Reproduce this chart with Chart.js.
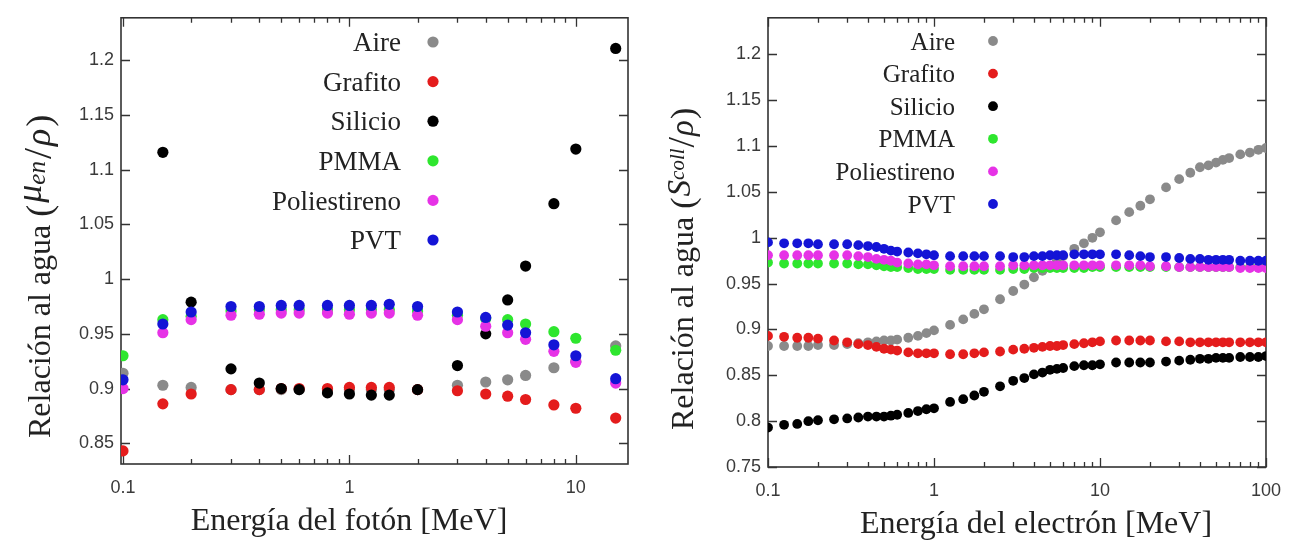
<!DOCTYPE html>
<html>
<head>
<meta charset="utf-8">
<script src="https://cdn.jsdelivr.net/npm/chart.js@4"></script>
<style>
  body { margin: 0; background: #fff; }
  .panel { position: absolute; top: 0; width: 647px; height: 540px; }
</style>
</head>
<body>
<div class="panel" style="left:0"><canvas id="photon" width="647" height="540"></canvas></div>
<div class="panel" style="left:647px"><canvas id="electron" width="647" height="540"></canvas></div>
<script>
// --- DATA ---
const materials = ['Aire', 'Grafito', 'Silicio', 'PMMA', 'Poliestireno', 'PVT'];

// photon energies [MeV] and ratio (mu_en/rho) material / water
const photonE   = [0.1, 0.15, 0.2, 0.3, 0.4, 0.5, 0.6, 0.8, 1, 1.25, 1.5, 2, 3, 4, 5, 6, 8, 10, 15];
const airePh     = [0.914, 0.903, 0.901, 0.899, 0.899, 0.899, 0.899, 0.899, 0.899, 0.899, 0.899, 0.899, 0.903, 0.906, 0.908, 0.912, 0.919, 0.925, 0.939];
const grafitoPh  = [0.843, 0.886, 0.895, 0.899, 0.899, 0.900, 0.900, 0.900, 0.901, 0.901, 0.901, 0.899, 0.898, 0.895, 0.893, 0.890, 0.885, 0.882, 0.873];
const silicioPh  = [null, 1.116, 0.979, 0.918, 0.905, 0.900, 0.899, 0.896, 0.895, 0.894, 0.894, 0.899, 0.921, 0.950, 0.981, 1.012, 1.069, 1.119, 1.211];
const pmmaPh     = [0.930, 0.963, 0.966, 0.971, 0.972, 0.972, 0.972, 0.972, 0.972, 0.972, 0.972, 0.971, 0.967, 0.964, 0.963, 0.959, 0.952, 0.946, 0.935];
const poliPh     = [0.900, 0.951, 0.963, 0.967, 0.968, 0.969, 0.969, 0.969, 0.968, 0.969, 0.969, 0.967, 0.963, 0.957, 0.951, 0.945, 0.934, 0.924, 0.905];
const pvtPh      = [0.908, 0.959, 0.970, 0.975, 0.975, 0.976, 0.976, 0.976, 0.976, 0.976, 0.977, 0.975, 0.970, 0.965, 0.958, 0.951, 0.940, 0.930, 0.909];

// electron energies [MeV] and ratio (S_coll/rho) material / water
const electronE = [0.1, 0.125, 0.15, 0.175, 0.2, 0.25, 0.3, 0.35, 0.4, 0.45, 0.5, 0.55, 0.6, 0.7, 0.8, 0.9, 1,
                   1.25, 1.5, 1.75, 2, 2.5, 3, 3.5, 4, 4.5, 5, 5.5, 6, 7, 8, 9, 10,
                   12.5, 15, 17.5, 20, 25, 30, 35, 40, 45, 50, 55, 60, 70, 80, 90, 100];
const aireEl    = [0.882, 0.882, 0.882, 0.882, 0.883, 0.883, 0.884, 0.885, 0.886, 0.887, 0.888, 0.888, 0.889, 0.891, 0.893, 0.896, 0.899,
                   0.905, 0.911, 0.917, 0.922, 0.933, 0.942, 0.949, 0.957, 0.964, 0.969, 0.975, 0.980, 0.988, 0.994, 1.000, 1.006,
                   1.019, 1.028, 1.035, 1.042, 1.055, 1.064, 1.071, 1.077, 1.079, 1.082, 1.085, 1.087, 1.091, 1.093, 1.096, 1.098];
const grafitoEl = [0.893, 0.892, 0.891, 0.891, 0.890, 0.888, 0.886, 0.884, 0.883, 0.881, 0.879, 0.878, 0.877, 0.875, 0.874, 0.874, 0.874,
                   0.873, 0.873, 0.874, 0.875, 0.876, 0.878, 0.879, 0.880, 0.881, 0.882, 0.882, 0.883, 0.884, 0.885, 0.886, 0.887,
                   0.888, 0.888, 0.888, 0.888, 0.887, 0.887, 0.886, 0.886, 0.886, 0.886, 0.886, 0.886, 0.886, 0.886, 0.886, 0.886];
const silicioEl = [0.793, 0.796, 0.797, 0.800, 0.801, 0.802, 0.803, 0.804, 0.805, 0.805, 0.805, 0.806, 0.807, 0.809, 0.811, 0.813, 0.814,
                   0.821, 0.824, 0.828, 0.832, 0.838, 0.844, 0.847, 0.851, 0.853, 0.856, 0.857, 0.858, 0.860, 0.861, 0.861, 0.862,
                   0.864, 0.864, 0.864, 0.864, 0.865, 0.866, 0.867, 0.868, 0.868, 0.869, 0.869, 0.869, 0.870, 0.870, 0.870, 0.871];
const pmmaEl    = [0.973, 0.972, 0.972, 0.972, 0.972, 0.972, 0.972, 0.971, 0.971, 0.970, 0.969, 0.968, 0.968, 0.967, 0.966, 0.966, 0.966,
                   0.965, 0.965, 0.965, 0.965, 0.965, 0.966, 0.966, 0.967, 0.967, 0.967, 0.967, 0.967, 0.967, 0.967, 0.968, 0.968,
                   0.968, 0.968, 0.968, 0.968, 0.968, 0.968, 0.968, 0.968, 0.968, 0.968, 0.968, 0.968, 0.968, 0.968, 0.968, 0.968];
const poliEl    = [0.981, 0.981, 0.981, 0.981, 0.981, 0.981, 0.981, 0.980, 0.979, 0.977, 0.976, 0.975, 0.973, 0.972, 0.971, 0.971, 0.970,
                   0.969, 0.969, 0.969, 0.969, 0.969, 0.970, 0.970, 0.970, 0.970, 0.970, 0.970, 0.970, 0.970, 0.970, 0.970, 0.970,
                   0.970, 0.970, 0.970, 0.969, 0.969, 0.968, 0.968, 0.968, 0.968, 0.968, 0.968, 0.968, 0.967, 0.967, 0.967, 0.967];
const pvtEl     = [0.995, 0.994, 0.994, 0.994, 0.993, 0.993, 0.993, 0.992, 0.991, 0.990, 0.988, 0.986, 0.985, 0.984, 0.983, 0.982, 0.981,
                   0.980, 0.980, 0.980, 0.980, 0.980, 0.979, 0.979, 0.980, 0.980, 0.981, 0.981, 0.981, 0.982, 0.982, 0.982, 0.982,
                   0.982, 0.981, 0.980, 0.979, 0.979, 0.978, 0.977, 0.977, 0.976, 0.976, 0.976, 0.976, 0.975, 0.975, 0.975, 0.975];

// tick values and labels
const xMajor = [0.1, 1, 10, 100];
const xMajorLabels = ['0.1', '1', '10', '100'];
const xMinor = [0.2, 0.3, 0.4, 0.5, 0.6, 0.7, 0.8, 0.9, 2, 3, 4, 5, 6, 7, 8, 9, 20, 30, 40, 50, 60, 70, 80, 90];
const yTicksPh  = [0.85, 0.9, 0.95, 1, 1.05, 1.1, 1.15, 1.2];
const yLabelsPh = ['0.85', '0.9', '0.95', '1', '1.05', '1.1', '1.15', '1.2'];
const yTicksEl  = [0.75, 0.8, 0.85, 0.9, 0.95, 1, 1.05, 1.1, 1.15, 1.2];
const yLabelsEl = ['0.75', '0.8', '0.85', '0.9', '0.95', '1', '1.05', '1.1', '1.15', '1.2'];

// --- STYLE ---
const colors = ['#8a8a8a', '#e41c1c', '#000000', '#2ee62e', '#e632e6', '#1414d6'];
const SERIF = '"Liberation Serif", "Times New Roman", serif';
const SANS = '"Liberation Sans", Arial, sans-serif';

// frame + inward tick marks on all four sides (drawn under the points)
const framePlugin = {
  id: 'frame',
  beforeDatasetsDraw(chart) {
    const { ctx, chartArea: a, scales: { x, y } } = chart;
    ctx.save();
    ctx.strokeStyle = '#333';
    ctx.lineWidth = 1.6;
    ctx.strokeRect(a.left, a.top, a.right - a.left, a.bottom - a.top);
    ctx.beginPath();
    x.ticks.forEach(t => {
      const px = Math.round(x.getPixelForValue(t.value)) + 0.5;
      const len = t.major ? 9 : 5;
      ctx.moveTo(px, a.bottom); ctx.lineTo(px, a.bottom - len);
      ctx.moveTo(px, a.top); ctx.lineTo(px, a.top + len);
    });
    y.ticks.forEach(t => {
      const py = Math.round(y.getPixelForValue(t.value)) + 0.5;
      ctx.moveTo(a.left, py); ctx.lineTo(a.left + 9, py);
      ctx.moveTo(a.right, py); ctx.lineTo(a.right - 9, py);
    });
    ctx.lineWidth = 1.3;
    ctx.stroke();
    ctx.restore();
  }
};

// axis titles and the in-plot legend
function decorPlugin(cfg) {
  return {
    id: 'decor',
    afterDraw(chart) {
      const ctx = chart.ctx;
      ctx.save();

      // legend: right aligned names, dot on the right
      chart.data.datasets.forEach((ds, i) => {
        const ry = cfg.legend.top + i * cfg.legend.step;
        ctx.font = cfg.legend.size + 'px ' + SERIF;
        ctx.textAlign = 'right';
        ctx.textBaseline = 'alphabetic';
        ctx.fillStyle = '#222';
        ctx.fillText(ds.label, cfg.legend.textX, ry + cfg.legend.size * 0.34);
        ctx.beginPath();
        ctx.arc(cfg.legend.dotX, ry, cfg.radius, 0, Math.PI * 2);
        ctx.fillStyle = ds.backgroundColor;
        ctx.fill();
      });

      // x title
      ctx.fillStyle = '#222';
      ctx.font = '32px ' + SERIF;
      ctx.textAlign = 'center';
      ctx.fillText(cfg.xTitle.text, cfg.xTitle.x, cfg.xTitle.y);

      // y title, rotated, with the small fraction
      ctx.translate(cfg.yTitle.x, cfg.yTitle.y);
      ctx.rotate(-Math.PI / 2);
      ctx.textAlign = 'left';
      let cx = 0;
      cfg.yTitle.parts.forEach(p => {
        ctx.font = p.f + SERIF;
        ctx.fillText(p.t, cx, p.dy);
        cx += ctx.measureText(p.t).width + (p.gap || 0);
      });
      ctx.restore();
    }
  };
}

function makeChart(id, energies, series, cfg) {
  const datasets = series.map((vals, i) => ({
    label: materials[i],
    data: energies.map((e, k) => ({ x: e, y: vals[k] })).filter(p => p.y !== null),
    backgroundColor: colors[i],
    pointRadius: cfg.radius,
    pointBorderWidth: 0,
    showLine: false,
    order: series.length - 1 - i
  }));
  const tickFont = { family: SANS, size: 18 };
  return new Chart(document.getElementById(id), {
    type: 'scatter',
    data: { datasets },
    options: {
      responsive: false,
      animation: false,
      events: [],
      layout: { padding: { top: cfg.padTop, right: cfg.padRight, left: 0, bottom: 0 } },
      plugins: { legend: { display: false }, tooltip: { enabled: false } },
      scales: {
        x: {
          type: 'logarithmic',
          min: cfg.xMin, max: cfg.xMax,
          grid: { display: false, drawTicks: false },
          border: { display: false },
          afterBuildTicks: s => {
            const inRange = v => v >= cfg.xMin && v <= cfg.xMax;
            s.ticks = xMajor.filter(inRange).map(v => ({ value: v, major: true }))
              .concat(xMinor.filter(inRange).map(v => ({ value: v })))
              .sort((a, b) => a.value - b.value);
          },
          afterFit: s => { s.height = cfg.xAxisHeight; },
          ticks: {
            autoSkip: false, maxRotation: 0, minRotation: 0, padding: 13,
            font: tickFont, color: '#3a3a3a',
            callback: v => { const k = xMajor.indexOf(v); return k >= 0 ? xMajorLabels[k] : ''; }
          }
        },
        y: {
          min: cfg.yMin, max: cfg.yMax,
          grid: { display: false, drawTicks: false },
          border: { display: false },
          afterBuildTicks: s => { s.ticks = cfg.yTicks.map(v => ({ value: v })); },
          afterFit: s => { s.width = 121; },
          ticks: {
            padding: 7, font: tickFont, color: '#3a3a3a',
            callback: (v, i) => cfg.yLabels[i]
          }
        }
      }
    },
    plugins: [framePlugin, decorPlugin(cfg)]
  });
}

makeChart('photon', photonE, [airePh, grafitoPh, silicioPh, pmmaPh, poliPh, pvtPh], {
  xMin: 0.098, xMax: 17, yMin: 0.831, yMax: 1.239,
  yTicks: yTicksPh, yLabels: yLabelsPh,
  padTop: 13, padRight: 19, xAxisHeight: 76, radius: 5.6,
  legend: { textX: 401, dotX: 433, top: 42, step: 39.6, size: 27 },
  xTitle: { text: 'Energía del fotón [MeV]', x: 349, y: 530 },
  yTitle: { x: 50, y: 438, parts: [
    { t: 'Relación al agua ', f: '32px ', dy: 0 },
    { t: '(', f: '36px ', dy: 1, gap: 2 },
    { t: 'μ', f: 'italic 36px ', dy: -9 },
    { t: 'en', f: 'italic 25px ', dy: -5, gap: 2 },
    { t: '/', f: '40px ', dy: 1, gap: 2 },
    { t: 'ρ', f: 'italic 36px ', dy: 0, gap: 2 },
    { t: ')', f: '36px ', dy: 1 }
  ] }
});

makeChart('electron', electronE, [aireEl, grafitoEl, silicioEl, pmmaEl, poliEl, pvtEl], {
  xMin: 0.1, xMax: 100, yMin: 0.75, yMax: 1.24,
  yTicks: yTicksEl, yLabels: yLabelsEl,
  padTop: 15, padRight: 17, xAxisHeight: 73, radius: 4.9,
  legend: { textX: 308, dotX: 346, top: 41, step: 32.6, size: 25 },
  xTitle: { text: 'Energía del electrón [MeV]', x: 389, y: 533 },
  yTitle: { x: 46, y: 430, parts: [
    { t: 'Relación al agua ', f: '32px ', dy: 0 },
    { t: '(', f: '34px ', dy: 1, gap: 1 },
    { t: 'S', f: 'italic 33px ', dy: -3 },
    { t: 'coll', f: 'italic 21px ', dy: -9, gap: 1 },
    { t: '/', f: '38px ', dy: 1, gap: 1 },
    { t: 'ρ', f: 'italic 33px ', dy: 0, gap: 1 },
    { t: ')', f: '34px ', dy: 1 }
  ] }
});
</script>
</body>
</html>
